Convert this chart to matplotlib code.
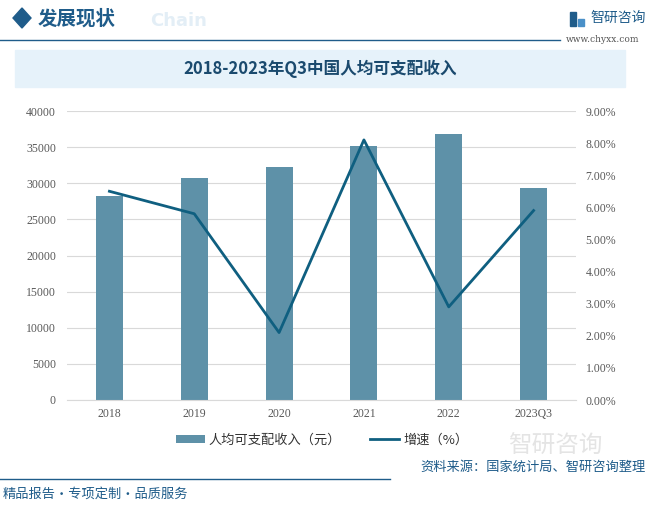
import matplotlib
matplotlib.use("Agg")
import matplotlib.pyplot as plt
from matplotlib.patches import Rectangle, Polygon
from matplotlib.lines import Line2D
from matplotlib.ticker import FuncFormatter, MultipleLocator

plt.rcParams['font.family'] = ['Noto Sans CJK SC', 'DejaVu Sans']

# data
years = ['2018', '2019', '2020', '2021', '2022', '2023Q3']
income = [28228, 30733, 32189, 35128, 36883, 29398]
growth = [6.5, 5.8, 2.1, 8.1, 2.9, 5.9]

bar_color = '#5e91a8'
line_color = '#0f5f80'
navy = '#1f5c8a'

fig = plt.figure(figsize=(6.52, 5.08), dpi=100)

# header
fig.patches.append(Polygon([(13/652, 1-18/508), (22/652, 1-8/508), (31/652, 1-18/508), (22/652, 1-28/508)],
                           closed=True, transform=fig.transFigure, color=navy))
fig.text(150/652, 1-21/508, 'Chain', fontsize=13, fontweight='bold', color='#e3eef6',
         va='center', ha='left', family='DejaVu Sans')
fig.text(38/652, 1-19/508, '发展现状', fontsize=14, fontweight='bold', color=navy, va='center')
fig.add_artist(Line2D([0, 560/652], [1-40/508, 1-40/508], transform=fig.transFigure, color=navy, lw=1))
# small logo mark
fig.patches.append(Rectangle((570/652, 1-26/508), 6/652, 14/508, transform=fig.transFigure, color=navy))
fig.patches.append(Rectangle((578/652, 1-26/508), 6/652, 7/508, transform=fig.transFigure, color='#4a90c8'))
fig.text(590/652, 1-18/508, '智研咨询', fontsize=10, color=navy, va='center')
fig.text(566/652, 1-40/508, 'www.chyxx.com', fontsize=6.5, color='#555555', va='center',
         family='DejaVu Serif')

# title band
fig.patches.append(Rectangle((15/652, 1-87/508), 610/652, 37/508, transform=fig.transFigure,
                             color='#e6f2fa', zorder=0))
fig.text(320/652, 1-69/508, '2018-2023年Q3中国人均可支配收入', fontsize=12, fontweight='bold',
         color='#1a4a6e', ha='center', va='center')

# main chart
ax = fig.add_axes([67/652, 1-400/508, 509/652, 289/508])
x = range(len(years))
ax.bar(x, income, width=0.32, color=bar_color, zorder=2, label='人均可支配收入（元）')
ax.set_ylim(0, 40000)
ax.yaxis.set_major_locator(MultipleLocator(5000))
ax.set_xlim(-0.5, len(years) - 0.5)
ax.set_xticks(list(x))
ax.set_xticklabels(years)
ax.grid(axis='y', color='#d9d9d9', lw=0.8, zorder=0)
for s in ['top', 'right', 'left']:
    ax.spines[s].set_visible(False)
ax.spines['bottom'].set_color('#d9d9d9')
ax.tick_params(length=0, labelsize=8.5, labelcolor='#595959', pad=6)
ax.tick_params(axis='y', pad=8)
for lab in ax.get_xticklabels() + ax.get_yticklabels():
    lab.set_family('Liberation Serif')

ax2 = ax.twinx()
ax2.plot(x, growth, color=line_color, lw=2, zorder=3, label='增速（%）')
ax2.set_ylim(0, 9)
ax2.yaxis.set_major_locator(MultipleLocator(1))
ax2.yaxis.set_major_formatter(FuncFormatter(lambda v, p: f'{v:.2f}%'))
for s in ['top', 'right', 'left', 'bottom']:
    ax2.spines[s].set_visible(False)
ax2.tick_params(length=0, labelsize=8.5, labelcolor='#595959', pad=7)
for lab in ax2.get_yticklabels():
    lab.set_family('Liberation Serif')

# legend
h1, l1 = ax.get_legend_handles_labels()
h2, l2 = ax2.get_legend_handles_labels()
fig.legend(h1 + h2, l1 + l2, loc='center', bbox_to_anchor=(322/652, 1-440/508), ncol=2,
           frameon=False, fontsize=9.5, handlelength=2.2, handleheight=0.5, columnspacing=2.2,
           handletextpad=0.3, labelcolor='#333333')

# footer
fig.text(555/652, 1-446/508, '智研咨询', fontsize=17, color='#e4e4e4', ha='center', va='center')
fig.add_artist(Line2D([0, 390/652], [1-479/508, 1-479/508], transform=fig.transFigure, color=navy, lw=1))
fig.text(3/652, 1-494/508, '精品报告·专项定制·品质服务', fontsize=9.5, color=navy, va='center')
fig.text(646/652, 1-467/508, '资料来源：国家统计局、智研咨询整理', fontsize=9.5, color=navy,
         ha='right', va='center')

fig.savefig('out.png', dpi=100)
